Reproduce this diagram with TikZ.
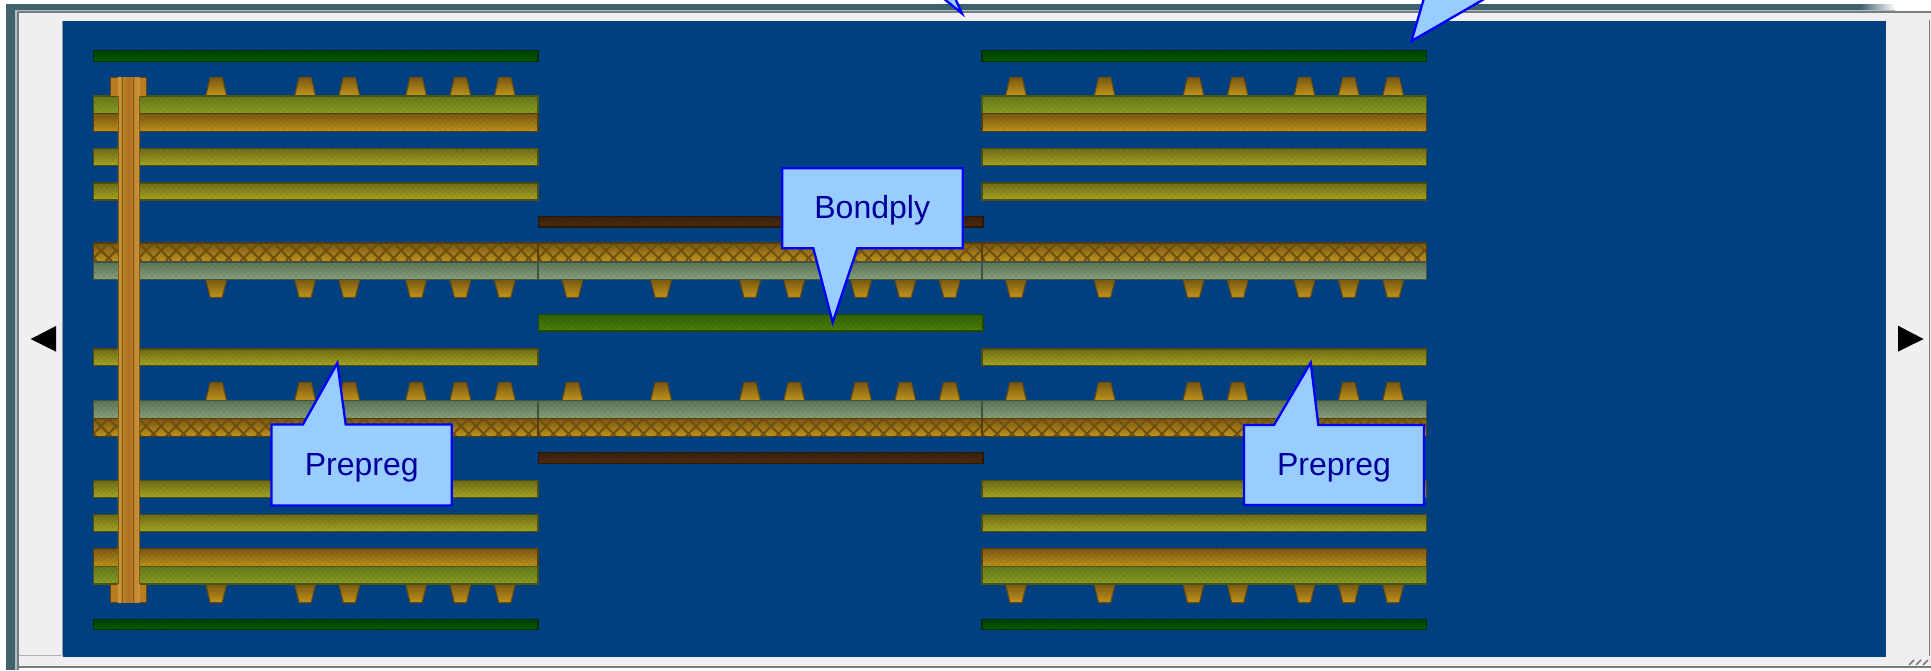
\documentclass[tikz,border=0pt]{standalone}
\usepackage{fontspec}
\setmainfont{Liberation Sans}
\usetikzlibrary{patterns.meta}
\definecolor{panelblue}{RGB}{0,64,128}
\definecolor{gutter}{RGB}{239,239,241}
\definecolor{frameteal}{RGB}{64,98,108}
\definecolor{framepale}{RGB}{170,190,195}
\definecolor{edgegray}{RGB}{120,125,128}
\definecolor{maskdark}{RGB}{0,66,0}
\definecolor{masklight}{RGB}{0,96,0}
\definecolor{olivetop}{RGB}{104,122,28}
\definecolor{olivebot}{RGB}{136,158,36}
\definecolor{coppertop}{RGB}{122,88,18}
\definecolor{copperbot}{RGB}{192,148,28}
\definecolor{yellowtop}{RGB}{112,110,26}
\definecolor{yellowbot}{RGB}{168,168,32}
\definecolor{sagetop}{RGB}{92,118,88}
\definecolor{sagebot}{RGB}{136,162,124}
\definecolor{bondtop}{RGB}{50,100,8}
\definecolor{bondbot}{RGB}{76,128,10}
\definecolor{browntop}{RGB}{58,34,14}
\definecolor{brownbot}{RGB}{78,44,14}
\definecolor{viaface}{RGB}{186,124,32}
\definecolor{vialight}{RGB}{206,150,60}
\definecolor{viamid}{RGB}{172,112,30}
\definecolor{tagfill}{RGB}{153,204,255}
\definecolor{tagline}{RGB}{0,0,255}
\definecolor{tagtext}{RGB}{0,0,153}
\tikzset{
  barline/.style={draw=#1, line width=1.4pt},
  weavea/.style={pattern={Lines[angle=45,distance=4pt,line width=.8pt]}, pattern color=black, fill opacity=.07},
  weaveb/.style={pattern={Lines[angle=-45,distance=4pt,line width=.8pt]}, pattern color=black, fill opacity=.07},
  hatchline/.style={draw=coppertop!90!black, line width=2pt},
  padshape/.style={draw=coppertop!85!black, line width=1.1pt, top color=coppertop, bottom color=copperbot},
  tagshape/.style={fill=tagfill, draw=tagline, line width=2.3pt, line join=miter},
  taglabel/.style={font=\fontsize{32}{34}\selectfont, text=tagtext, inner sep=0pt, anchor=center}
}

\begin{document}
\begin{tikzpicture}[x=1pt, y=-1pt]

% ── Canvas ───────────────────────────────────────────────────────────
\clip[use as bounding box] (0,0) rectangle (1931,670);
\fill[white] (0,0) rectangle (1931,670);

% ── Column limits ────────────────────────────────────────────────────
\def\colA{93.6}    % left column
\def\colB{538.5}   % middle column
\def\colC{982}     % right column
\def\colW{444.5}

% ── Window frame ─────────────────────────────────────────────────────
\fill[frameteal] (6.4,4) rectangle (1860,10);
\shade[left color=frameteal, right color=white] (1860,4) rectangle (1895,10);
\fill[framepale] (6.4,10) rectangle (1895,12);
\fill[frameteal] (6.4,4) rectangle (15,670);
\fill[framepale] (15,10) rectangle (18,670);
\fill[gutter] (18,12) rectangle (1931,666);
\draw[edgegray, line width=1.2pt] (18,12) -- (1931,12);
\draw[edgegray, line width=1.2pt] (18,12) -- (18,670);
\draw[edgegray, line width=1.2pt] (18,667) -- (1931,667);
\draw[edgegray, line width=1.6pt] (1929.5,20) -- (1929.5,656);
\draw[edgegray!60, line width=1pt] (19,655.5) -- (62,655.5);
\fill[panelblue] (62.5,20.7) rectangle (1886,657);
\draw[edgegray!80, line width=1pt] (62,20.7) -- (62,655);
\foreach \g in {1909,1916,1923} {
  \draw[edgegray, line width=1.5pt] (\g,665) -- (\g+5,660);
}

% ── Scroll arrows ────────────────────────────────────────────────────
\fill[black] (30.7,339) -- (56,326) -- (56,351.7) -- cycle;
\fill[black] (1923.5,339) -- (1898,325.7) -- (1898,351.7) -- cycle;

% ── Macro for one flat layer ─────────────────────────────────────────
% #1=left x, #2=width, #3=top y, #4=bottom y, #5=top colour, #6=bottom colour
\newcommand{\layerbar}[6]{%
  \path[top color=#5, bottom color=#6] (#1,#3) rectangle ++(#2,#4-#3);
  \path[weavea] (#1,#3) rectangle ++(#2,#4-#3);
  \path[weaveb] (#1,#3) rectangle ++(#2,#4-#3);
  \draw[barline=#5!70!black] (#1,#3) rectangle ++(#2,#4-#3);
}

% ── Macro for one woven layer ────────────────────────────────────────
% #1=left x, #2=width, #3=top y, #4=bottom y
\newcommand{\hatchbar}[4]{%
  \path[top color=coppertop, bottom color=copperbot] (#1,#3) rectangle ++(#2,#4-#3);
  \begin{scope}
    \clip (#1,#3) rectangle ++(#2,#4-#3);
    \foreach \k in {-2,...,32} {
      \draw[hatchline] (#1+\k*15,#3) -- ++(18,18);
      \draw[hatchline] (#1+\k*15,#3) -- ++(-18,18);
    }
  \end{scope}
  \draw[barline=coppertop!70!black] (#1,#3) rectangle ++(#2,#4-#3);
}

% ── Macro for a row of pads ──────────────────────────────────────────
% #1=column x, #2=y of wide side, #3=y of narrow side, #4=offsets
\newcommand{\padrow}[4]{%
  \foreach \p in #4 {
    \draw[padshape] (#1+\p-10.5,#2) -- (#1+\p-6,#3) -- (#1+\p+6,#3) -- (#1+\p+10.5,#2) -- cycle;
  }
}
\def\padsAll{34,122.6,211.5,255.7,322.5,366.8,411.2}
\def\padsVia{122.6,211.5,255.7,322.5,366.8,411.2}

% ── Pads ─────────────────────────────────────────────────────────────
\padrow{\colA}{96}{77.3}{\padsVia}
\padrow{\colC}{96}{77.3}{\padsAll}
\padrow{\colA}{279.5}{297.3}{\padsVia}
\padrow{\colB}{279.5}{297.3}{\padsAll}
\padrow{\colC}{279.5}{297.3}{\padsAll}
\padrow{\colA}{400.7}{382.3}{\padsVia}
\padrow{\colB}{400.7}{382.3}{\padsAll}
\padrow{\colC}{400.7}{382.3}{\padsAll}
\padrow{\colA}{584}{602.7}{\padsVia}
\padrow{\colC}{584}{602.7}{\padsAll}

% ── Outer columns: layers ────────────────────────────────────────────
\foreach \c in {\colA,\colC} {
  \layerbar{\c}{\colW}{50.7}{61.3}{maskdark}{masklight}
  \layerbar{\c}{\colW}{96}{113.3}{olivetop}{olivebot}
  \layerbar{\c}{\colW}{113.3}{131.7}{coppertop}{copperbot}
  \layerbar{\c}{\colW}{148.7}{165.7}{yellowtop}{yellowbot}
  \layerbar{\c}{\colW}{183}{200}{yellowtop}{yellowbot}
  \layerbar{\c}{\colW}{349}{365.7}{yellowtop}{yellowbot}
  \layerbar{\c}{\colW}{480.7}{497.7}{yellowtop}{yellowbot}
  \layerbar{\c}{\colW}{514.3}{531.7}{yellowtop}{yellowbot}
  \layerbar{\c}{\colW}{548.3}{566.7}{coppertop}{copperbot}
  \layerbar{\c}{\colW}{566.7}{584}{olivetop}{olivebot}
  \layerbar{\c}{\colW}{619.3}{629.3}{maskdark}{masklight}
}

% ── Middle column: layers ────────────────────────────────────────────
\layerbar{\colB}{\colW}{216.7}{227}{browntop}{brownbot}
\layerbar{\colB}{\colW}{314.3}{331}{bondtop}{bondbot}
\layerbar{\colB}{\colW}{452.7}{463.3}{browntop}{brownbot}

% ── Core running through all columns ─────────────────────────────────
\foreach \c in {\colA,\colB,\colC} {
  \hatchbar{\c}{\colW}{243}{262}
  \layerbar{\c}{\colW}{262}{279.5}{sagetop}{sagebot}
  \layerbar{\c}{\colW}{400.7}{418.7}{sagetop}{sagebot}
  \hatchbar{\c}{\colW}{418.7}{436.7}
}

% ── Through via ──────────────────────────────────────────────────────
\path[draw=coppertop!80!black, fill=viaface, line width=.8pt] (110.7,77.3) rectangle (146.8,96);
\path[draw=coppertop!80!black, fill=viaface, line width=.8pt] (110.7,584) rectangle (146.8,602.7);
\path[left color=vialight, right color=vialight, middle color=viamid] (117.9,77.3) rectangle (139.3,602.7);
\draw[coppertop, line width=1pt] (122,77.3) -- (122,602.7);
\draw[coppertop, line width=1pt] (133,77.3) -- (133,602.7);
\draw[coppertop, line width=.8pt] (117.9,96) -- (117.9,584);
\draw[coppertop, line width=.8pt] (139.3,96) -- (139.3,584);

% ── Callouts ─────────────────────────────────────────────────────────
\draw[tagshape] (943,-2) -- (962,13.5) -- (955,-2);
\draw[tagshape] (1424,-2) -- (1411.5,41) -- (1486,-2);

\draw[tagshape] (782.3,168.3) -- (962.7,168.3) -- (962.7,248.3) -- (857.3,248.3)
  -- (832.7,322.3) -- (813.3,248.3) -- (782.3,248.3) -- cycle;
\node[taglabel] (bondply) at (872.2,210.5) {Bondply};

\draw[tagshape] (271.4,424.5) -- (302.9,424.5) -- (337.4,363) -- (345.7,424.5)
  -- (451.8,424.5) -- (451.8,505.5) -- (271.4,505.5) -- cycle;
\node[taglabel] (prepregleft) at (361.8,467.5) {Prepreg};

\draw[tagshape] (1244,425) -- (1274,425) -- (1310.7,362.7) -- (1318.3,425)
  -- (1424,425) -- (1424,505) -- (1244,505) -- cycle;
\node[taglabel] (prepregright) at (1334,467.5) {Prepreg};

\end{tikzpicture}
\end{document}
